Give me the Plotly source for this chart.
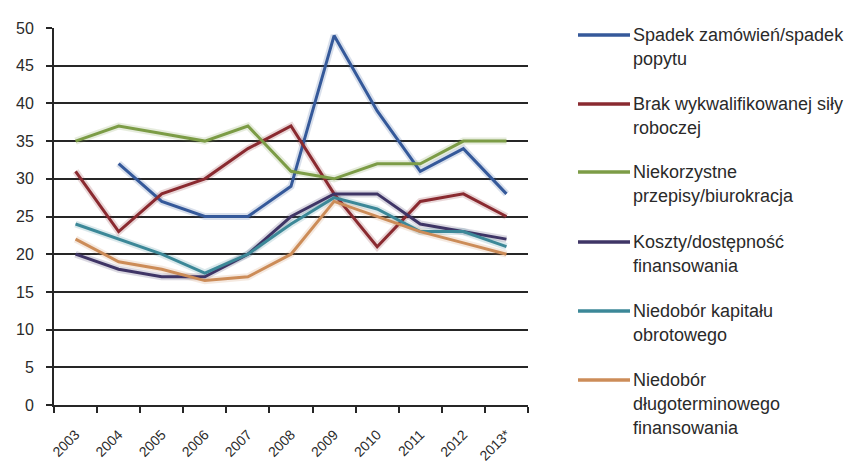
import plotly.graph_objects as go

# Survey years (last one is a forecast)
years = ["2003", "2004", "2005", "2006", "2007", "2008", "2009", "2010", "2011", "2012", "2013*"]

# Share of firms reporting each barrier (%)
spadek_popytu = [None, 32, 27, 25, 25, 29, 49, 39, 31, 34, 28]
brak_sily_roboczej = [31, 23, 28, 30, 34, 37, 28, 21, 27, 28, 25]
niekorzystne_przepisy = [35, 37, 36, 35, 37, 31, 30, 32, 32, 35, 35]
koszty_finansowania = [20, 18, 17, 17, 20, 25, 28, 28, 24, 23, 22]
kapital_obrotowy = [24, 22, 20, 17.5, 20, 24, 27.5, 26, 23, 23, 21]
finansowanie_dlugoterminowe = [22, 19, 18, 16.5, 17, 20, 27, 25, 23, 21.5, 20]

# Legend labels, one list of text lines per series
labels = [
    ["Spadek zamówień/spadek", "popytu"],
    ["Brak wykwalifikowanej siły", "roboczej"],
    ["Niekorzystne", "przepisy/biurokracja"],
    ["Koszty/dostępność", "finansowania"],
    ["Niedobór kapitału", "obrotowego"],
    ["Niedobór", "długoterminowego", "finansowania"],
]

series = [spadek_popytu, brak_sily_roboczej, niekorzystne_przepisy,
          koszty_finansowania, kapital_obrotowy, finansowanie_dlugoterminowe]
colors = ["#35599a", "#8a2a30", "#7c9c46", "#3f3566", "#3c8898", "#cc8c58"]

FONT = "Liberation Sans"
TEXT = "#2a2a2a"

fig = go.Figure()

# soft halo under each line
for vals, col in zip(series, colors):
    fig.add_trace(go.Scatter(
        x=years, y=vals, mode="lines",
        line=dict(color=col, width=7), opacity=0.18,
        hoverinfo="skip", showlegend=False, connectgaps=False,
    ))

for vals, col, lab in zip(series, colors, labels):
    fig.add_trace(go.Scatter(
        x=years, y=vals, mode="lines", name=" ".join(lab),
        line=dict(color=col, width=3), showlegend=False,
    ))

# legend drawn at the right: line sample + wrapped text
entry_y = [35, 104, 172, 242, 311, 380]
line_gap = 24
for col, lab, yy in zip(colors, labels, entry_y):
    fig.add_shape(type="line", xref="paper", yref="paper",
                  x0=(578 - 54) / 474, x1=(630 - 54) / 474,
                  y0=(405 - yy) / 377, y1=(405 - yy) / 377,
                  line=dict(color=col, width=3.5))
    for i, txt in enumerate(lab):
        ty = yy + i * line_gap
        fig.add_annotation(xref="paper", yref="paper",
                           x=(631 - 54) / 474, y=(405 - ty) / 377,
                           text=txt, showarrow=False,
                           xanchor="left", yanchor="middle",
                           font=dict(family=FONT, size=18, color=TEXT))

fig.update_layout(
    width=852, height=467,
    margin=dict(l=54, r=324, t=28, b=62),
    paper_bgcolor="white", plot_bgcolor="white",
    showlegend=False,
    font=dict(family=FONT, size=14, color=TEXT),
)

fig.update_yaxes(
    range=[0, 50], dtick=5, tick0=0,
    showgrid=True, gridcolor="#262626", gridwidth=2,
    showline=True, linecolor="#262626", linewidth=2,
    ticks="outside", ticklen=6, tickcolor="#262626", tickwidth=1.5,
    ticklabelstandoff=9,
    tickfont=dict(family=FONT, size=16, color=TEXT),
    zeroline=False, automargin=False,
)

fig.update_xaxes(
    type="category", range=[-0.5, len(years) - 0.5],
    showgrid=False,
    showline=True, linecolor="#262626", linewidth=2,
    ticks="outside", ticklen=6, tickcolor="#262626", tickwidth=1.5,
    tickson="boundaries", tickangle=-45,
    ticklabelstandoff=14,
    tickfont=dict(family=FONT, size=14, color=TEXT),
    automargin=False,
)

fig.write_html("out.html")
